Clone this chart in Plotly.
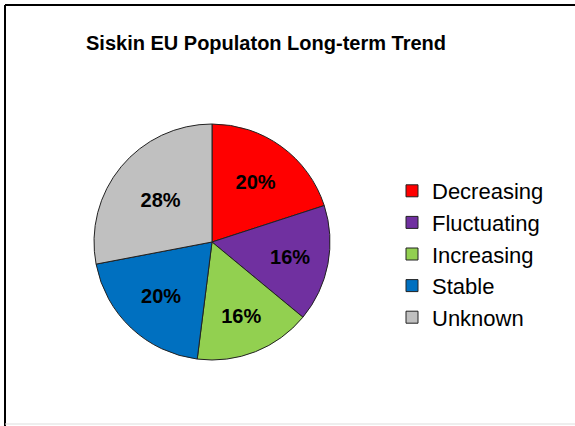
import plotly.graph_objects as go

# data
labels = ["Decreasing", "Fluctuating", "Increasing", "Stable", "Unknown"]
shares = [20, 16, 16, 20, 28]
colors = ["#FF0000", "#7030A0", "#92D050", "#0070C0", "#C0C0C0"]

W, H = 575, 426
FONT = "Liberation Sans, Arial, sans-serif"

fig = go.Figure(go.Pie(
    labels=labels,
    values=shares,
    sort=False,
    direction="clockwise",
    rotation=0,
    marker=dict(colors=colors, line=dict(color="#222222", width=1)),
    textinfo="percent",
    texttemplate="%{percent:.0%}",
    textposition="inside",
    insidetextorientation="horizontal",
    textfont=dict(family=FONT, size=20, color="black", weight="bold"),
    domain=dict(x=[94 / W, 330 / W], y=[(H - 360) / H, (H - 124) / H]),
    hoverinfo="label+percent",
))

fig.update_layout(
    width=W, height=H,
    margin=dict(l=0, r=0, t=0, b=0),
    paper_bgcolor="white",
    font=dict(family=FONT, color="black"),
    title=dict(text="<b>Siskin EU Populaton Long-term Trend</b>", x=266 / W, xanchor="center",
               y=1 - 43 / H, yanchor="middle", font=dict(size=20, family=FONT, color="black")),
    showlegend=True,
    legend=dict(x=392 / W, y=1 - 170 / H, xanchor="left", yanchor="top",
                font=dict(size=22, family=FONT, color="black"),
                itemwidth=30, tracegroupgap=0, bgcolor="rgba(0,0,0,0)"),
    shapes=[
        dict(type="line", xref="paper", yref="paper", x0=5 / W, x1=1, y0=1 - 5 / H, y1=1 - 5 / H,
             line=dict(color="black", width=2)),
        dict(type="line", xref="paper", yref="paper", x0=5 / W, x1=5 / W, y0=0, y1=1 - 5 / H,
             line=dict(color="black", width=2)),
        dict(type="line", xref="paper", yref="paper", x0=5 / W, x1=1, y0=2 / H, y1=2 / H,
             line=dict(color="#DDDDDD", width=1)),
    ],
)

# drop the browser's default body margin so the figure sits at the page origin
fig.write_html("out.html", config={"displayModeBar": False},
               post_script="document.body.style.margin='0';")
